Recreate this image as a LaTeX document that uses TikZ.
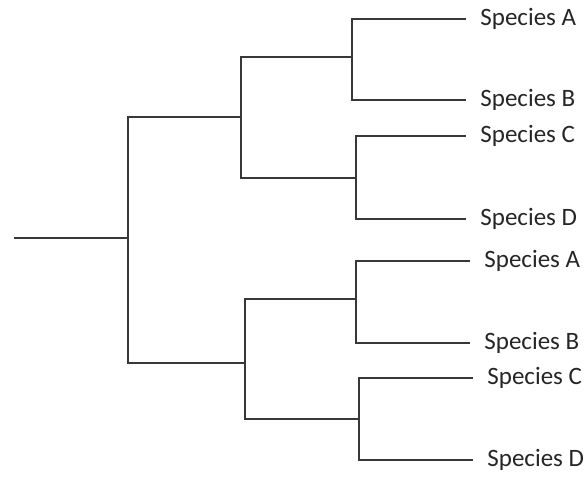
\documentclass[tikz,border=0pt]{standalone}
\usepackage{fontspec}
\setmainfont{Carlito}
\usepackage{tikz}
\usetikzlibrary{positioning}

\begin{document}
\begin{tikzpicture}[x=0.5pt,y=-0.5pt,
  branch/.style={line width=1pt,draw=black!78},
  leaf/.style={anchor=west,inner sep=7pt,font=\fontsize{12.5}{15}\selectfont,text=black!85}]
  \useasboundingbox (0,0) rectangle (588,482);
  % 分岐点
  \coordinate (root) at (14,238);
  \coordinate (n0) at (128,238);
  \coordinate (n1) at (241,117); \coordinate (n2) at (245,363);
  \coordinate (n11) at (352,57); \coordinate (n12) at (356,178);
  \coordinate (n21) at (356,299); \coordinate (n22) at (359,419);
  % 種名
  \node[leaf] (a1) at (466,19) {Species A};
  \node[leaf] (b1) at (466,100) {Species B};
  \node[leaf] (c1) at (466,136) {Species C};
  \node[leaf] (d1) at (466,219) {Species D};
  \node[leaf] (a2) at (470,261) {Species A};
  \node[leaf] (b2) at (470,343) {Species B};
  \node[leaf] (c2) at (473,378) {Species C};
  \node[leaf] (d2) at (473,460) {Species D};
  % 枝
  \draw[branch] (root) -- (n0);
  \draw[branch] (n1) -| (n0) |- (n2);
  \draw[branch] (n11) -| (n1) |- (n12);
  \draw[branch] (n21) -| (n2) |- (n22);
  \draw[branch] (a1.west) -| (n11) |- (b1.west);
  \draw[branch] (c1.west) -| (n12) |- (d1.west);
  \draw[branch] (a2.west) -| (n21) |- (b2.west);
  \draw[branch] (c2.west) -| (n22) |- (d2.west);
\end{tikzpicture}
\end{document}
